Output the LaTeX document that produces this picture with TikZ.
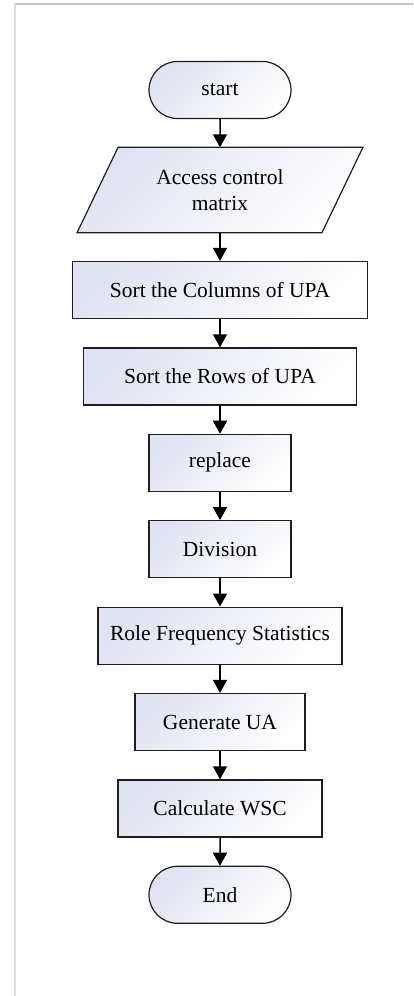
\documentclass[tikz,border=0pt]{standalone}
\usepackage{fontspec}
\setmainfont{Liberation Serif}
\usetikzlibrary{positioning,shapes.misc,arrows.meta,backgrounds}
\definecolor{boxblue}{RGB}{224,227,242}
\definecolor{edgegray}{RGB}{30,30,30}
\definecolor{frametop}{RGB}{196,196,196}
\definecolor{frameleft}{RGB}{218,218,218}

\begin{document}
\begin{tikzpicture}[
		node distance=28.2pt,
		every node/.style={font=\fontsize{21.5}{26.5}\selectfont},
		proc/.style={draw=edgegray, line width=1.2pt, rectangle, minimum height=57pt, inner sep=0pt, top color=boxblue, bottom color=white, shading angle=45},
		term/.style={proc, rounded rectangle, minimum width=142pt},
		flow/.style={-{Triangle[length=13pt,width=14pt]}, line width=1.5pt}
	]
		\useasboundingbox (0,0) rectangle (413pt,-996pt);
		\draw[frametop, line width=1.2pt] (14.5pt,-4pt) -- (413pt,-4pt);
		\draw[frameleft, line width=2pt] (14.5pt,-4pt) -- (14.5pt,-996pt);

		\node[term] (start) at (220pt,-90pt) {start};
		\node[align=center, minimum width=244.5pt, minimum height=85pt, inner sep=0pt] (acm) [below=of start] {Access control\\matrix};
		\node[proc, minimum width=295pt] (cols) [below=of acm] {Sort the Columns of UPA};
		\node[proc, minimum width=273pt] (rows) [below=of cols] {Sort the Rows of UPA};
		\node[proc, minimum width=142pt] (repl) [below=of rows] {replace};
		\node[proc, minimum width=142pt] (div) [below=of repl] {Division};
		\node[proc, minimum width=244pt] (rfs) [below=of div] {Role Frequency Statistics};
		\node[proc, minimum width=170pt] (gua) [below=of rfs] {Generate UA};
		\node[proc, minimum width=204pt] (wsc) [below=of gua] {Calculate WSC};
		\node[term] (end) [below=of wsc] {End};

		% input parallelogram behind its text
		\begin{scope}[on background layer]
			\draw[proc] ([xshift=20.5pt]acm.north west) -- ([xshift=20.5pt]acm.north east) -- ([xshift=-20.5pt]acm.south east) -- ([xshift=-20.5pt]acm.south west) -- cycle;
		\end{scope}

		\draw[flow] (start) -- (acm);
		\draw[flow] (acm) -- (cols);
		\draw[flow] (cols) -- (rows);
		\draw[flow] (rows) -- (repl);
		\draw[flow] (repl) -- (div);
		\draw[flow] (div) -- (rfs);
		\draw[flow] (rfs) -- (gua);
		\draw[flow] (gua) -- (wsc);
		\draw[flow] (wsc) -- (end);
	\end{tikzpicture}
\end{document}
